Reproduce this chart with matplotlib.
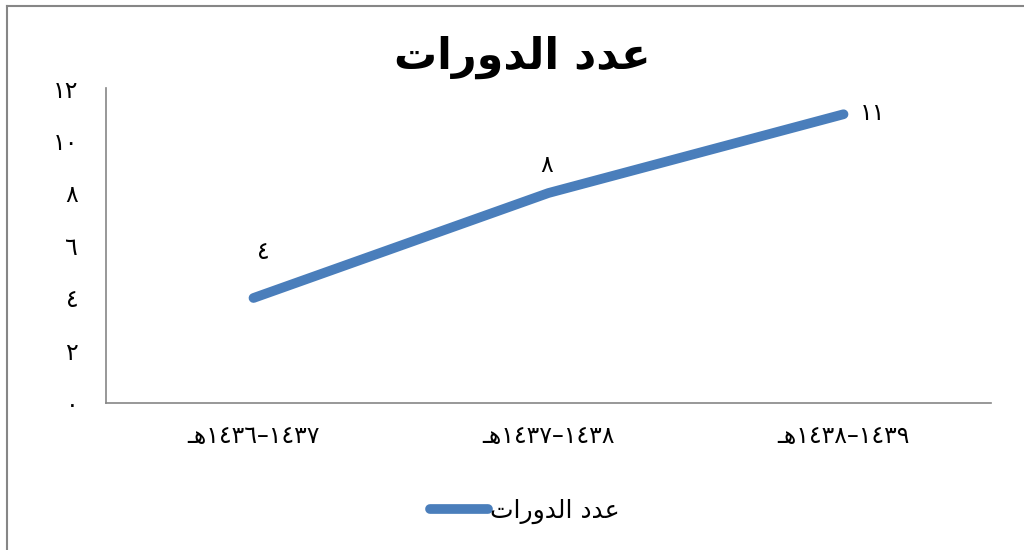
import matplotlib
matplotlib.use("Agg")
import matplotlib.pyplot as plt
from matplotlib.lines import Line2D
from matplotlib.ticker import FuncFormatter

# Arabic text is written in presentation forms, in visual (left to right) order,
# since matplotlib does no shaping or bidi of its own.
title = "\uFE95\uFE8D\uFEAD\uFEED\uFEAA\uFEDF\uFE8D \uFEA9\uFEAA\uFECB"   # عدد الدورات
series_name = title
categories = ["\u0640\uFEEB١٤٣٦–١٤٣٧", "\u0640\uFEEB١٤٣٧–١٤٣٨", "\u0640\uFEEB١٤٣٨–١٤٣٩"]
values = [4, 8, 11]
y_ticks = [0, 2, 4, 6, 8, 10, 12]

line_color = "#4a7ebb"
axis_color = "#868686"

def arabic_digits(v):
    return str(int(v)).translate(str.maketrans("0123456789", "٠١٢٣٤٥٦٧٨٩"))

fig = plt.figure(figsize=(10.24, 5.5), dpi=100)
ax = fig.add_axes([0.1035, 0.2673, 0.8643, 0.5727])

x = list(range(len(values)))
ln, = ax.plot(x, values, color=line_color, linewidth=7, solid_capstyle="round",
              solid_joinstyle="round", label=series_name)

# data labels
offsets = [(7, 33), (-1.5, 20), (21, 1)]
for xi, v, off in zip(x, values, offsets):
    ax.annotate(arabic_digits(v), (xi, v), xytext=off, textcoords="offset points",
                ha="center", va="center", fontsize=17)

ax.set_xlim(-0.5, len(values) - 0.5)
ax.set_ylim(0, 12)
ax.set_yticks(y_ticks)
ax.yaxis.set_major_formatter(FuncFormatter(lambda v, p: arabic_digits(v)))
ax.set_xticks(x)
ax.set_xticklabels(categories)
ax.tick_params(axis="both", length=0, labelsize=17)
ax.tick_params(axis="y", pad=20)
ax.tick_params(axis="x", pad=15)

for s in ["top", "right"]:
    ax.spines[s].set_visible(False)
for s in ["left", "bottom"]:
    ax.spines[s].set_color(axis_color)
    ax.spines[s].set_linewidth(1.2)

fig.text(0.51, 0.895, title, ha="center", va="center", fontsize=31, fontweight="bold")

fig.legend(handles=[ln], loc="center", bbox_to_anchor=(0.513, 0.07), frameon=False,
           fontsize=18, handlelength=2.3, handletextpad=0.1)

# outer chart border (left and top edges visible)
fig.add_artist(Line2D([6.5 / 1024, 6.5 / 1024], [0, 1 - 5.5 / 550], transform=fig.transFigure,
                      color=axis_color, linewidth=1.5))
fig.add_artist(Line2D([6.5 / 1024, 1], [1 - 5.5 / 550, 1 - 5.5 / 550], transform=fig.transFigure,
                      color=axis_color, linewidth=1.5))

fig.savefig("out.png", dpi=100, facecolor="white")
